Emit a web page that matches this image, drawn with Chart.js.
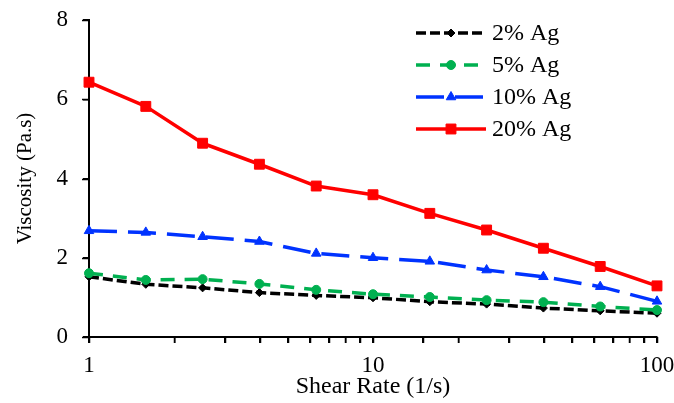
<!DOCTYPE html>
<html>
<head>
<meta charset="utf-8">
<script src="https://cdn.jsdelivr.net/npm/chart.js@4/dist/chart.umd.min.js"></script>
<style>
  html, body { margin: 0; padding: 0; background: #fff; }
  #wrap { width: 674px; height: 403px; }
</style>
</head>
<body>
<div id="wrap"><canvas id="c" width="674" height="403"></canvas></div>
<script>
// Shear rates (1/s) and measured viscosities (Pa.s) per Ag loading
const shearRates = [1, 1.585, 2.512, 3.981, 6.31, 10, 15.85, 25.12, 39.81, 63.1, 100];
const visc2  = [1.52, 1.33, 1.24, 1.12, 1.05, 0.99, 0.89, 0.83, 0.73, 0.66, 0.60];
const visc5  = [1.61, 1.44, 1.46, 1.34, 1.19, 1.08, 1.01, 0.93, 0.88, 0.77, 0.68];
const visc10 = [2.68, 2.64, 2.53, 2.41, 2.11, 2.00, 1.91, 1.69, 1.52, 1.27, 0.90];
const visc20 = [6.43, 5.82, 4.89, 4.36, 3.81, 3.59, 3.12, 2.70, 2.24, 1.78, 1.29];
const seriesNames = ['2% Ag', '5% Ag', '10% Ag', '20% Ag'];
const xLabels = [1, 10, 100];
const yTicks = [0, 2, 4, 6, 8];

const FONT = '"Liberation Serif", "Times New Roman", serif';
const pts = v => shearRates.map((x, i) => ({ x, y: v[i] }));

function series(label, values, color, dash, style, radius, order) {
  return {
    label, data: pts(values), order,
    borderColor: color, backgroundColor: color,
    borderWidth: 3.5, borderDash: dash, borderJoinStyle: 'round',
    pointStyle: style, pointRadius: radius,
    pointBackgroundColor: color, pointBorderColor: color, pointBorderWidth: 1,
    tension: 0, fill: false, clip: false
  };
}

// Outward tick marks on both axes, placed from each scale's own ticks
const tickMarks = {
  id: 'tickMarks',
  afterDraw(chart) {
    const ctx = chart.ctx;
    const xs = chart.scales.x, ys = chart.scales.y;
    const area = chart.chartArea;
    ctx.save();
    ctx.strokeStyle = '#000';
    ctx.lineWidth = 1.5;
    ctx.beginPath();
    xs.ticks.forEach(t => {
      const px = Math.round(xs.getPixelForValue(t.value)) + 0.5;
      ctx.moveTo(px, area.bottom);
      ctx.lineTo(px, area.bottom + 6);
    });
    ys.ticks.forEach(t => {
      const py = Math.round(ys.getPixelForValue(t.value)) + 0.5;
      ctx.moveTo(area.left, py);
      ctx.lineTo(area.left - 7, py);
    });
    ctx.stroke();
    ctx.restore();
  }
};

// Legend drawn inside the plot, top right: dashed sample line with marker, then label
const insideLegend = {
  id: 'insideLegend',
  afterDraw(chart) {
    const ctx = chart.ctx;
    const x0 = 416, x1 = 486, tx = 492, y0 = 33, dy = 32;
    chart.data.datasets.forEach((ds, i) => {
      const y = y0 + i * dy;
      ctx.save();
      ctx.strokeStyle = ds.borderColor;
      ctx.lineWidth = ds.borderWidth;
      ctx.setLineDash(ds.borderDash);
      ctx.beginPath();
      ctx.moveTo(x0, y);
      ctx.lineTo(x1, y);
      ctx.stroke();
      ctx.setLineDash([]);
      ctx.fillStyle = ds.pointBackgroundColor;
      ctx.strokeStyle = ds.pointBorderColor;
      ctx.lineWidth = ds.pointBorderWidth;
      Chart.helpers.drawPoint(ctx, {
        pointStyle: ds.pointStyle, radius: ds.pointRadius,
        rotation: 0, borderWidth: ds.pointBorderWidth
      }, (x0 + x1) / 2, y);
      ctx.fillStyle = '#000';
      ctx.font = '24px ' + FONT;
      ctx.textBaseline = 'middle';
      ctx.textAlign = 'left';
      ctx.fillText(ds.label, tx, y + 1);
      ctx.restore();
    });
  }
};

new Chart(document.getElementById('c'), {
  type: 'line',
  data: {
    datasets: [
      series(seriesNames[0], visc2,  '#000000', [10, 4],  'rectRot',  4,   4),
      series(seriesNames[1], visc5,  '#00b050', [14, 10], 'circle',   4.5, 3),
      series(seriesNames[2], visc10, '#0033ff', [28, 11], 'triangle', 5.5, 2),
      series(seriesNames[3], visc20, '#ff0000', [],       'rect',     7,   1)
    ]
  },
  options: {
    responsive: false,
    animation: false,
    events: [],
    layout: { padding: { top: 20, right: 17, left: 0, bottom: 0 } },
    plugins: { legend: { display: false }, tooltip: { enabled: false } },
    scales: {
      x: {
        type: 'logarithmic', min: 1, max: 100,
        border: { display: true, color: '#000', width: 2 },
        grid: { drawOnChartArea: false, drawTicks: true, tickLength: 6, color: '#000', lineWidth: 1.5 },
        ticks: {
          autoSkip: false, maxRotation: 0, padding: 9, color: '#000',
          font: { family: FONT, size: 23 },
          callback: v => xLabels.includes(Number(v)) ? String(v) : ''
        },
        title: { display: true, text: 'Shear Rate (1/s)', color: '#000',
                 font: { family: FONT, size: 24 }, padding: { top: 0, bottom: 2 } },
        afterFit(s) { s.height = 66; s.paddingLeft = 0; s.paddingRight = 0; }
      },
      y: {
        min: 0, max: 8,
        border: { display: true, color: '#000', width: 2 },
        grid: { drawOnChartArea: false, drawTicks: true, tickLength: 6, color: '#000', lineWidth: 1.5 },
        afterBuildTicks(s) { s.ticks = yTicks.map(v => ({ value: v })); },
        ticks: { padding: 15, color: '#000', font: { family: FONT, size: 23 } },
        title: { display: true, text: 'Viscosity (Pa.s)', color: '#000',
                 font: { family: FONT, size: 21 }, padding: { top: 13, bottom: 0 } },
        afterFit(s) { s.width = 89; s.paddingTop = 0; s.paddingBottom = 0; }
      }
    }
  },
  plugins: [tickMarks, insideLegend]
});
</script>
</body>
</html>
